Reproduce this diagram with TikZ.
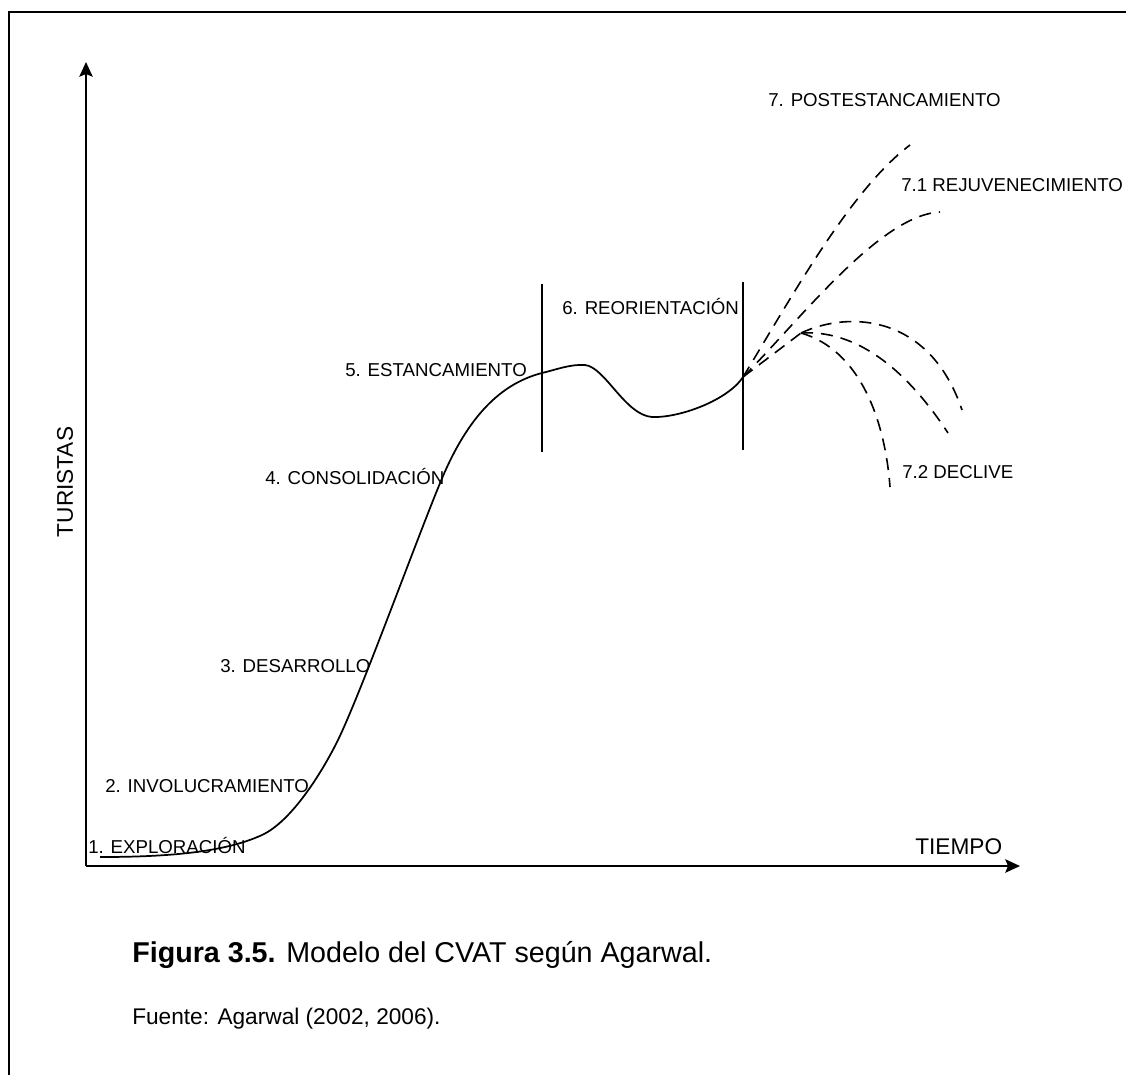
\documentclass[tikz,border=0pt]{standalone}
\usepackage{fontspec}
\setmainfont{Liberation Sans}
\usetikzlibrary{arrows.meta}
\begin{document}
\begin{tikzpicture}[x=0.75pt,y=-0.75pt,
  axis/.style={line width=1.6pt,-{Stealth[length=11pt,width=10pt,inset=2pt]}},
  curve/.style={line width=1.3pt},
  branch/.style={line width=1.2pt,dash pattern=on 9pt off 6pt},
  divider/.style={line width=1.3pt},
  stage/.style={anchor=west,inner sep=0pt,font=\fontsize{14}{16}\selectfont},
  axislabel/.style={inner sep=0pt,font=\fontsize{17}{19}\selectfont},
  frame/.style={line width=1.6pt}]
\useasboundingbox (0,0) rectangle (1126,1075);
\fill[white] (0,0) rectangle (1126,1075);
% open frame: top and left edges
\draw[frame] (9,1075) -- (9,12) -- (1126,12);
% axes
\coordinate (O) at (86,866);
\coordinate (ytip) at (86,62);
\coordinate (xtip) at (1020,866);
\draw[axis] (O) -- (ytip);
\draw[axis] (O) -- (xtip);
\node[axislabel,rotate=90] (ylab) at (65,482) {TURISTAS};
\node[axislabel,anchor=west] (xlab) at (915,847) {TIEMPO};
% stage dividers
\coordinate (d1t) at (542,284); \coordinate (d1b) at (542,452);
\coordinate (d2t) at (743,282); \coordinate (d2b) at (743,450);
\draw[divider] (d1t) -- (d1b);
\draw[divider] (d2t) -- (d2b);
% life-cycle curve
\coordinate (s) at (100,857);
\coordinate (j) at (743,377);
\draw[curve] (s) .. controls (170,857) and (225,852) .. (262,835)
  .. controls (292,821) and (322,772) .. (337,742)
  .. controls (360,696) and (420,530) .. (443,476)
  .. controls (465,425) and (495,385) .. (542,373)
  .. controls (555,370) and (570,364) .. (585,365)
  .. controls (605,367) and (625,415) .. (652,417)
  .. controls (680,418) and (728,400) .. (j);
% post-stagnation branches
\coordinate (v) at (801,333);
\draw[branch] (j) .. controls (790,300) and (850,190) .. (910,145);
\draw[branch] (j) .. controls (800,320) and (880,215) .. (940,212);
\draw[branch] (j) -- (v);
\draw[branch] (v) .. controls (850,310) and (930,315) .. (962,410);
\draw[branch] (v) .. controls (850,330) and (900,360) .. (948,433);
\draw[branch] (v) .. controls (860,350) and (885,420) .. (890,487);
% stage labels
\node[stage] (l1) at (88,845) {1. EXPLORACIÓN};
\node[stage] (l2) at (105,786) {2. INVOLUCRAMIENTO};
\node[stage] (l3) at (220,666) {3. DESARROLLO};
\node[stage] (l4) at (265,476) {4. CONSOLIDACIÓN};
\node[stage] (l5) at (345,370) {5. ESTANCAMIENTO};
\node[stage] (l6) at (562,306) {6. REORIENTACIÓN};
\node[stage] (l7) at (768,100) {7. POSTESTANCAMIENTO};
\node[stage] (l71) at (901,185) {7.1 REJUVENECIMIENTO};
\node[stage] (l72) at (902,472) {7.2 DECLIVE};
% caption and source
\node[anchor=west,inner sep=0pt,font=\fontsize{21.5}{25}\selectfont] (cap) at (132,955) {\textbf{Figura 3.5.} Modelo del CVAT según Agarwal.};
\node[anchor=west,inner sep=0pt,font=\fontsize{17}{20}\selectfont] (src) at (132,1019) {Fuente: Agarwal (2002, 2006).};
\end{tikzpicture}
\end{document}
